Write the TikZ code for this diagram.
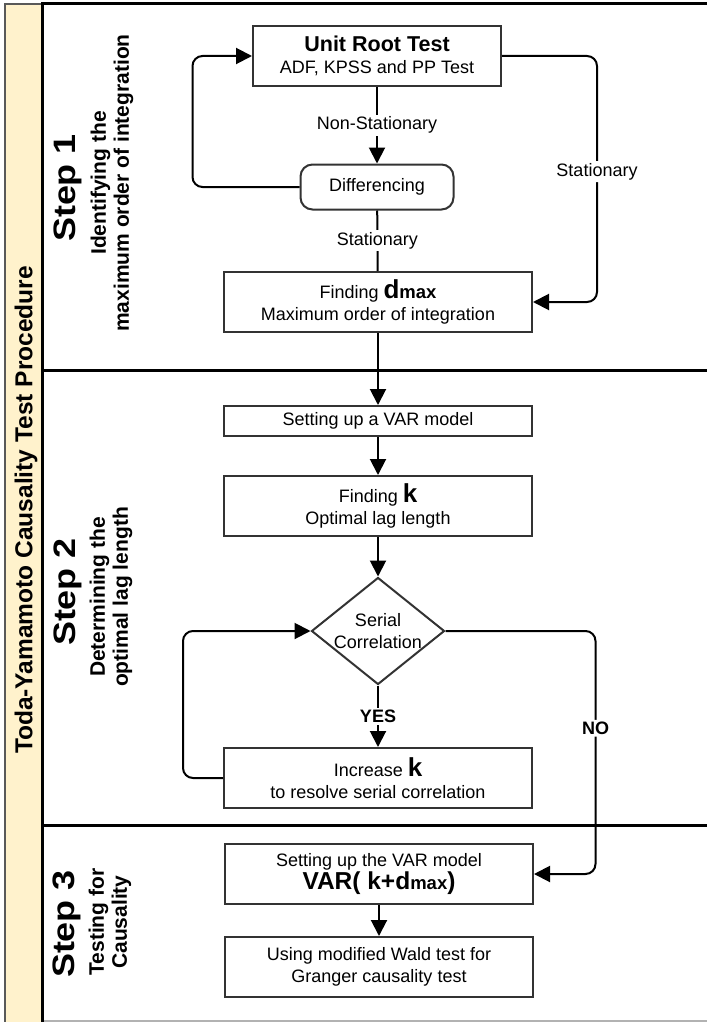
\documentclass[tikz,border=0pt]{standalone}
\usepackage{fontspec}
\setmainfont{Liberation Sans}
\usetikzlibrary{shapes.geometric, arrows.meta, positioning}

\definecolor{stripfill}{HTML}{FFF2CC}
\definecolor{boxline}{HTML}{333333}

\newcommand{\boxfont}{\fontsize{18}{22.5}\selectfont}
\newcommand{\headfont}{\fontsize{21.5}{22.5}\selectfont\bfseries}
\newcommand{\bigvar}{\fontsize{26}{22.5}\selectfont\bfseries}
\newcommand{\subvar}{\fontsize{18.5}{22.5}\selectfont\bfseries}
\newcommand{\stepfont}{\fontsize{31}{34}\selectfont\bfseries}
\newcommand{\stepsubfont}{\fontsize{21}{23}\selectfont\bfseries}
\newcommand{\steplabel}[1]{\scalebox{1.16}[1]{#1}}

\begin{document}
\begin{tikzpicture}[x=1pt, y=-1pt,
  every node/.style={font=\boxfont, align=center},
  stepbox/.style={draw=boxline, line width=2pt, fill=white,
                  minimum width=308pt, minimum height=60pt, inner sep=2pt},
  arr/.style={-{Triangle[length=16pt, width=16pt]}, line width=2pt},
  plain/.style={line width=2pt},
  lbl/.style={fill=white, inner sep=2pt},
  steptitle/.style={rotate=90, font=\stepfont},
  stepsub/.style={rotate=90, font=\stepsubfont}
]
  \useasboundingbox (0,0) rectangle (707,1022);

  % frame and lanes
  \fill[stripfill] (5,4) rectangle (42,1022);
  \draw[black!65, line width=2pt] (5,1022) -- (5,4) -- (42,4);
  \draw[gray!60, line width=1.5pt] (42,1021) -- (707,1021);
  \draw[line width=3pt] (42,4) -- (707,4);
  \draw[line width=3pt] (42,2.5) -- (42,1022);
  \draw[line width=3pt] (42,370) -- (707,370);
  \draw[line width=3pt] (42,825) -- (707,825);

  \node (proc) at (26,510) [rotate=90, font=\fontsize{24.5}{26}\selectfont\bfseries]
        {Toda-Yamamoto Causality Test Procedure};

  % lane titles
  \node (step1)    at (68,188)  [steptitle] {\steplabel{Step 1}};
  \node (step1sub) at (112,183) [stepsub] {Identifying the\\maximum order of integration};
  \node (step2)    at (68,592)  [steptitle] {\steplabel{Step 2}};
  \node (step2sub) at (111,597) [stepsub] {Determining the\\optimal lag length};
  \node (step3)    at (67,924)  [steptitle] {\steplabel{Step 3}};
  \node (step3sub) at (110,922) [stepsub] {Testing for\\Causality};

  % step 1
  \node (urt)  at (377,56)  [stepbox, minimum width=248pt]
        {{\headfont Unit Root Test}\\ADF, KPSS and PP Test};
  \node (diff) at (377,187) [stepbox, rounded corners=12pt,
                             minimum width=153pt, minimum height=45pt] {Differencing};
  \node (dmax) at (378,302) [stepbox]
        {Finding {\bigvar d}{\subvar max}\\Maximum order of integration};

  % step 2
  \node (var)    at (378,421) [stepbox, minimum height=30pt] {Setting up a VAR model};
  \node (findk)  at (378,506) [stepbox] {Finding {\bigvar k}\\Optimal lag length};
  \node (serial) at (378,631) [diamond, draw=boxline, line width=2pt, fill=white,
                               aspect=1.24, minimum width=133pt, minimum height=107pt,
                               inner sep=0pt] {Serial\\Correlation};
  \node (incr)   at (378,778) [stepbox]
        {Increase {\bigvar k}\\to resolve serial correlation};

  % step 3
  \node (varkd) at (379,874) [stepbox]
        {Setting up the VAR model\\{\fontsize{24.5}{28}\selectfont\bfseries VAR( k+d{\subvar max})}};
  \node (wald)  at (379,967) [stepbox]
        {Using modified Wald test for\\Granger causality test};

  % connectors
  \draw[arr] (urt) -- node[lbl] {Non-Stationary} (diff);
  \draw[plain] (diff) -- node[lbl] {Stationary} (dmax);
  \draw[arr, rounded corners=10pt] (diff.west) -- ++(-107,0) |- (urt.west);
  \draw[arr, rounded corners=10pt] (urt.east) -- ++(95,0) |- (dmax.east)
        node[lbl, pos=0.235] {Stationary};
  \draw[arr] (dmax) -- (var);
  \draw[arr] (var) -- (findk);
  \draw[arr] (findk) -- (serial);
  \draw[arr] (serial) -- node[lbl, font=\boxfont\bfseries] {YES} (incr);
  \draw[arr, rounded corners=10pt] (incr.west) -- ++(-40,0) |- (serial.west);
  \draw[arr, rounded corners=10pt] (serial.east) -- ++(150,0) |- (varkd.east)
        node[lbl, pos=0.2, font=\boxfont\bfseries] {NO};
  \draw[arr] (varkd) -- (wald);
\end{tikzpicture}
\end{document}
